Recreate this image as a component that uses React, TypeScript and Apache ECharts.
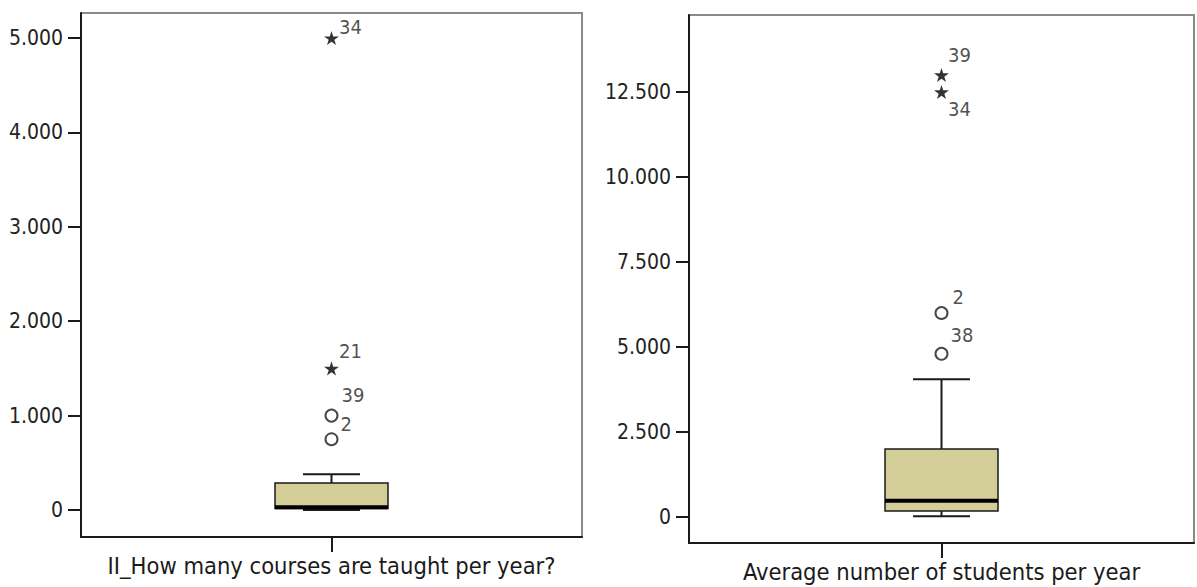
import React, { useEffect, useRef } from "react";
import * as echarts from "echarts";

// ---- Data ----
const leftCategory = ["II_How many courses are taught per year?"];
const rightCategory = ["Average number of students per year"];

// [min, Q1, median, Q3, max] (whisker ends)
const leftBox = [0, 15, 30, 285, 380];
const rightBox = [25, 175, 480, 2000, 4050];

const leftOutlierValues = [750, 1000];
const leftOutlierLabels = ["2", "39"];
const leftExtremeValues = [1500, 5000];
const leftExtremeLabels = ["21", "34"];

const rightOutlierValues = [6000, 4800];
const rightOutlierLabels = ["2", "38"];
const rightExtremeValues = [13000, 12500];
const rightExtremeLabels = ["39", "34"];

const leftTicks = [0, 1000, 2000, 3000, 4000, 5000];
const rightTicks = [0, 2500, 5000, 7500, 10000, 12500];

// ---- Styles ----
const leftLabelOffsets: Record<string, number[]> = {
  "2": [2, -15],
  "39": [3, -21],
  "21": [0, -17],
  "34": [0, -11],
};
const rightLabelOffsets: Record<string, number[]> = {
  "2": [4, -16],
  "38": [2, -19],
  "39": [-1, -20],
  "34": [-1, 17],
};

const STAR = "path://M50,0 L61,35 L98,35 L68,57 L79,91 L50,70 L21,91 L32,57 L2,35 L39,35 Z";
const BOX_FILL = "#d3ce98";
const INK = "#1a1a1a";
const FRAME = "#8a8a8a";
const TICK_FONT = "'DejaVu Sans Condensed', 'Liberation Sans', sans-serif";
const LABEL_FONT = "'DejaVu Sans Condensed', 'Liberation Sans', sans-serif";
const BOX_W = 113;
const CAP_W = 57;

const fmt = (v: number) => String(v).replace(/\B(?=(\d{3})+(?!\d))/g, ".");

function boxRender(params: any, api: any) {
  const x = api.value(0);
  const vmin = api.value(1);
  const q1 = api.value(2);
  const med = api.value(3);
  const q3 = api.value(4);
  const vmax = api.value(5);
  const pMin = api.coord([x, vmin]);
  const pQ1 = api.coord([x, q1]);
  const pMed = api.coord([x, med]);
  const pQ3 = api.coord([x, q3]);
  const pMax = api.coord([x, vmax]);
  const cx = pMin[0];
  const lineStyle = { stroke: INK, lineWidth: 2 };
  return {
    type: "group",
    children: [
      { type: "line", shape: { x1: cx, y1: pMax[1], x2: cx, y2: pQ3[1] }, style: lineStyle },
      { type: "line", shape: { x1: cx, y1: pMin[1], x2: cx, y2: pQ1[1] }, style: lineStyle },
      { type: "line", shape: { x1: cx - CAP_W / 2, y1: pMax[1], x2: cx + CAP_W / 2, y2: pMax[1] }, style: lineStyle },
      { type: "line", shape: { x1: cx - CAP_W / 2, y1: pMin[1], x2: cx + CAP_W / 2, y2: pMin[1] }, style: lineStyle },
      {
        type: "rect",
        shape: { x: cx - BOX_W / 2, y: pQ3[1], width: BOX_W, height: pQ1[1] - pQ3[1] },
        style: { fill: BOX_FILL, stroke: INK, lineWidth: 1.5 },
      },
      {
        type: "line",
        shape: { x1: cx - BOX_W / 2, y1: pMed[1], x2: cx + BOX_W / 2, y2: pMed[1] },
        style: { stroke: "#000", lineWidth: 4 },
      },
    ],
  };
}

function pointData(values: number[], labels: string[], offsets: Record<string, number[]>, star: boolean) {
  return values.map((v, i) => ({
    value: [0, v],
    symbol: star ? STAR : "circle",
    symbolSize: star ? 15 : 12,
    itemStyle: star
      ? { color: "#000", borderWidth: 0 }
      : { color: "#fff", borderColor: INK, borderWidth: 2 },
    label: {
      show: true,
      formatter: labels[i],
      position: "right",
      distance: 0,
      offset: offsets[labels[i]],
      fontFamily: TICK_FONT,
      fontSize: 20,
      color: "#222",
    },
  }));
}

function yAxis(gridIndex: number, min: number, max: number, ticks: number[]) {
  return {
    type: "value",
    gridIndex,
    min,
    max,
    splitLine: { show: false },
    axisLine: { show: true, onZero: false, lineStyle: { color: INK, width: 2 } },
    axisTick: { show: true, length: 13, lineStyle: { color: INK, width: 2 }, customValues: ticks },
    axisLabel: {
      margin: 18,
      fontFamily: TICK_FONT,
      fontSize: 21,
      color: "#222",
      customValues: ticks,
      formatter: (v: number) => fmt(v),
    },
  };
}

function xAxis(gridIndex: number, data: string[]) {
  return {
    type: "category",
    gridIndex,
    data,
    boundaryGap: true,
    axisLine: { show: true, onZero: false, lineStyle: { color: INK, width: 2 } },
    axisTick: { show: true, alignWithLabel: true, length: 15, lineStyle: { color: INK, width: 2 } },
    axisLabel: { margin: 17, fontFamily: LABEL_FONT, fontSize: 23.5, color: "#1a1a1a" },
    splitLine: { show: false },
  };
}

export default function App() {
  const ref = useRef<HTMLDivElement>(null);
  useEffect(() => {
    if (!ref.current) return;
    const chart = echarts.init(ref.current, undefined, { renderer: "svg" });
    chart.setOption({
      animation: false,
      backgroundColor: "#fff",
      grid: [
        { left: 81, top: 13, width: 501, height: 524, show: true, borderColor: FRAME, borderWidth: 2, backgroundColor: "transparent" },
        { left: 689, top: 15, width: 505, height: 528, show: true, borderColor: FRAME, borderWidth: 2, backgroundColor: "transparent" },
      ],
      xAxis: [xAxis(0, leftCategory), xAxis(1, rightCategory)],
      yAxis: [yAxis(0, -286, 5265, leftTicks), yAxis(1, -765, 14765, rightTicks)],
      series: [
        {
          type: "custom",
          xAxisIndex: 0,
          yAxisIndex: 0,
          renderItem: boxRender,
          encode: { x: 0, y: [1, 2, 3, 4, 5] },
          data: [[0, ...leftBox]],
          z: 2,
        },
        {
          type: "custom",
          xAxisIndex: 1,
          yAxisIndex: 1,
          renderItem: boxRender,
          encode: { x: 0, y: [1, 2, 3, 4, 5] },
          data: [[0, ...rightBox]],
          z: 2,
        },
        {
          type: "scatter",
          xAxisIndex: 0,
          yAxisIndex: 0,
          symbolKeepAspect: true,
          data: [
            ...pointData(leftOutlierValues, leftOutlierLabels, leftLabelOffsets, false),
            ...pointData(leftExtremeValues, leftExtremeLabels, leftLabelOffsets, true),
          ],
          z: 3,
        },
        {
          type: "scatter",
          xAxisIndex: 1,
          yAxisIndex: 1,
          symbolKeepAspect: true,
          data: [
            ...pointData(rightOutlierValues, rightOutlierLabels, rightLabelOffsets, false),
            ...pointData(rightExtremeValues, rightExtremeLabels, rightLabelOffsets, true),
          ],
          z: 3,
        },
      ],
    });
    return () => chart.dispose();
  }, []);
  return (
    <div
      ref={ref}
      style={{ position: "fixed", left: 0, top: 0, width: 1197, height: 587, background: "#fff" }}
    />
  );
}
